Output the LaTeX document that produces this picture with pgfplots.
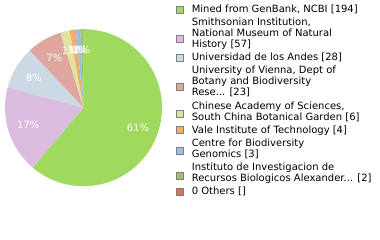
\documentclass[border=0pt]{standalone}
\usepackage{pgfplots}
\pgfplotsset{compat=1.18}
\usepackage{pgfplotstable}
\usepackage{fontspec}
\setmainfont{DejaVu Sans}

\definecolor{c0}{HTML}{9FD95D}
\definecolor{c1}{HTML}{DCBCDE}
\definecolor{c2}{HTML}{CCD8E4}
\definecolor{c3}{HTML}{DEA69F}
\definecolor{c4}{HTML}{DFE3A0}
\definecolor{c5}{HTML}{EEAC6E}
\definecolor{c6}{HTML}{9CBDE2}
\definecolor{c7}{HTML}{9DC26E}
\definecolor{c8}{HTML}{D8705A}
\definecolor{legb}{HTML}{7F7F7F}

\pgfplotstableread{
value
194
57
28
23
6
4
3
2
0
}\piedata

\begin{document}
\begin{tikzpicture}
\def\total{0}%
\pgfplotstableforeachcolumnelement{value}\of\piedata\as\v{\pgfmathparse{\total+\v}\xdef\total{\pgfmathresult}}%
\def\cum{0}%
\pgfplotstableforeachcolumnelement{value}\of\piedata\as\v{%
 \pgfmathparse{90-360*(\cum/\total)}\expandafter\xdef\csname sa\pgfplotstablerow\endcsname{\pgfmathresult}%
 \pgfmathparse{\cum+\v}\xdef\cum{\pgfmathresult}%
 \pgfmathparse{90-360*(\cum/\total)}\expandafter\xdef\csname ea\pgfplotstablerow\endcsname{\pgfmathresult}%
 \pgfmathparse{int(floor(100*(\v/\total)))}\expandafter\xdef\csname pc\pgfplotstablerow\endcsname{\pgfmathresult}%
}%
\begin{axis}[
  width=380bp, height=240bp, scale only axis, hide axis,
  xmin=0, xmax=380, ymin=0, ymax=240, y dir=reverse, clip=false,
  legend image code/.code={\draw[#1, draw=legb, line width=0.8bp] (0bp,-3.5bp) rectangle (7bp,3.5bp);},
  legend style={at={(0.4632,0.979)}, anchor=north west, draw=none, fill=none,
    inner sep=0pt, outer sep=0pt, row sep=4bp, column sep=8bp,
    font=\fontsize{10bp}{11bp}\selectfont,
    cells={anchor=west}, nodes={align=left, inner sep=0pt}},
]
\pgfplotsinvokeforeach{0,...,7}{
  \fill[c#1] (axis cs:83.5,107.7) -- ++(\csname sa#1\endcsname:78.5bp)
    arc[start angle=\csname sa#1\endcsname, end angle=\csname ea#1\endcsname, radius=78.5bp] -- cycle;
}
\pgfplotsinvokeforeach{0,...,7}{
  \path (axis cs:83.5,107.7) ++({(\csname sa#1\endcsname+\csname ea#1\endcsname)/2}:58bp)
    node[text=white, inner sep=0pt, font=\fontsize{10bp}{12bp}\selectfont] {\csname pc#1\endcsname\%};
}
\addlegendimage{fill=c0, yshift=-0.5bp}\addlegendentry{Mined from GenBank, NCBI [194]}
\addlegendimage{fill=c1, yshift=-5.5bp}\addlegendentry{Smithsonian Institution,\\National Museum of Natural\\History [57]}
\addlegendimage{fill=c2, yshift=-0.3bp}\addlegendentry{Universidad de los Andes [28]}
\addlegendimage{fill=c3, yshift=-5.5bp}\addlegendentry{University of Vienna, Dept of\\Botany and Biodiversity\\Rese... [23]}
\addlegendimage{fill=c4, yshift=-2.75bp}\addlegendentry{Chinese Academy of Sciences,\\South China Botanical Garden [6]}
\addlegendimage{fill=c5, yshift=-0.3bp}\addlegendentry{Vale Institute of Technology [4]}
\addlegendimage{fill=c6, yshift=-2.75bp}\addlegendentry{Centre for Biodiversity\\Genomics [3]}
\addlegendimage{fill=c7, yshift=-3bp}\addlegendentry{Instituto de Investigacion de\\Recursos Biologicos Alexander... [2]}
\addlegendimage{fill=c8, yshift=-0.3bp}\addlegendentry{0 Others []}
\end{axis}
\pgfresetboundingbox
\path (current axis.south west) rectangle (current axis.north east);
\end{tikzpicture}
\end{document}
